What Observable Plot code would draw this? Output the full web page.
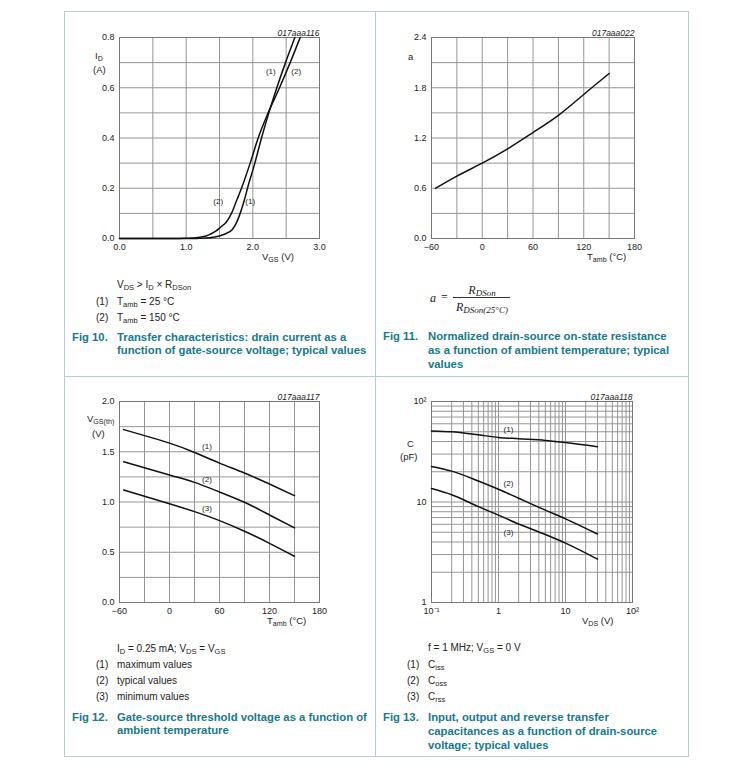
<!DOCTYPE html>
<html><head><meta charset="utf-8">
<script src="https://cdn.jsdelivr.net/npm/d3@7"></script>
<script src="https://cdn.jsdelivr.net/npm/@observablehq/plot@0.6"></script>
<style>
body{margin:0;background:#fff;}
#page{position:relative;width:750px;height:771px;font-family:"Liberation Sans",Arial,sans-serif;color:#222;overflow:hidden;}
.abs{position:absolute;white-space:nowrap;}
.hl{position:absolute;background:#b7cbd2;}
.lbl{font-size:9.5px;line-height:10px;}
.note{font-size:10px;line-height:12px;}
.cap{font-size:11.3px;font-weight:bold;color:#16798c;line-height:13px;}
.fx{font-family:"Liberation Serif","Times New Roman",serif;font-style:italic;font-size:12px;line-height:13px;}
.fx.up{font-style:normal;}
sub{font-size:75%;vertical-align:-0.3em;line-height:0;}
</style></head><body><div id="page"></div>
<script>
// ---------- Fig 10 : transfer characteristics ----------
const vgs25  = [0, 1.0, 1.2, 1.3, 1.4, 1.5, 1.6, 1.69, 1.75, 1.81, 1.87, 1.92, 2.03, 2.13, 2.24, 2.36, 2.49, 2.63];
const id25   = [0, 0, 0.0005, 0.002, 0.005, 0.01, 0.02, 0.035, 0.06, 0.1, 0.15, 0.2, 0.3, 0.4, 0.5, 0.6, 0.7, 0.8];
const vgs150 = [0, 0.9, 1.0, 1.1, 1.2, 1.3, 1.36, 1.45, 1.51, 1.6, 1.68, 1.755, 1.83, 1.96, 2.08, 2.23, 2.40, 2.56, 2.71];
const id150  = [0, 0, 0.001, 0.002, 0.005, 0.01, 0.017, 0.03, 0.044, 0.065, 0.1, 0.15, 0.2, 0.3, 0.4, 0.5, 0.6, 0.7, 0.8];
const f10XTicks = [0, 1, 2, 3];
const f10YTicks = [0, 0.2, 0.4, 0.6, 0.8];
const f10XGrid = [0, 0.5, 1, 1.5, 2, 2.5, 3];
const f10YGrid = [0, 0.1, 0.2, 0.3, 0.4, 0.5, 0.6, 0.7, 0.8];

// ---------- Fig 11 : normalized RDSon ----------
const tempA = [-55, -30, 0, 30, 60, 90, 120, 150];
const aVals = [0.6, 0.745, 0.9, 1.07, 1.265, 1.47, 1.72, 1.97];
const tXTicks = [-60, 0, 60, 120, 180];
const tXGrid = [-60, -30, 0, 30, 60, 90, 120, 150, 180];
const f11YTicks = [0, 0.6, 1.2, 1.8, 2.4];
const f11YGrid = [0, 0.3, 0.6, 0.9, 1.2, 1.5, 1.8, 2.1, 2.4];

// ---------- Fig 12 : gate-source threshold voltage ----------
const tempV  = [-55, 0, 30, 60, 90, 120, 150];
const vthMax = [1.72, 1.586, 1.493, 1.387, 1.288, 1.179, 1.063];
const vthTyp = [1.40, 1.268, 1.195, 1.10, 0.997, 0.871, 0.742];
const vthMin = [1.12, 0.983, 0.904, 0.815, 0.709, 0.589, 0.46];
const f12YTicks = [0, 0.5, 1.0, 1.5, 2.0];
const f12YGrid = [0, 0.25, 0.5, 0.75, 1.0, 1.25, 1.5, 1.75, 2.0];

// ---------- Fig 13 : capacitances ----------
const vds  = [0.1, 0.2, 0.5, 1, 2, 5, 10, 30];
const ciss = [51, 50, 46.6, 43.9, 42.6, 41, 39, 35.5];
const coss = [22.6, 20.3, 16.2, 13.4, 10.9, 8.3, 6.8, 4.8];
const crss = [13.6, 11.8, 9.0, 7.4, 6.05, 4.75, 3.9, 2.7];
const f13XTicks = [0.1, 1, 10, 100];
const f13XTickLabels = ["10\u207B\u00B9", "1", "10", "10\u00B2"];
const f13YTicks = [1, 10, 100];
const f13YTickLabels = ["1", "10", "10\u00B2"];

// ---------- helpers ----------
const page = document.getElementById("page");
const GRID = "#959595", FRAME = "#777";
function put(html, x, y, cls, anchor) {
  const d = document.createElement("div");
  d.className = "abs " + cls;
  d.innerHTML = html;
  d.style.left = x + "px"; d.style.top = y + "px";
  const tx = anchor === "center" ? "-50%" : anchor === "right" ? "-100%" : "0";
  d.style.transform = `translate(${tx}, -50%)`;
  page.appendChild(d);
  return d;
}
function rect(x, y, w, h, bg) {
  const d = document.createElement("div");
  d.className = "hl";
  Object.assign(d.style, {left: x + "px", top: y + "px", width: w + "px", height: h + "px"});
  if (bg) d.style.background = bg;
  page.appendChild(d);
}
function mount(svg, x, y) {
  svg.style.position = "absolute"; svg.style.left = x + "px"; svg.style.top = y + "px";
  page.appendChild(svg);
}
const zip = (xs, ys, s) => xs.map((x, i) => ({x, y: ys[i], s}));
const style = {fontFamily: '"Liberation Sans", Arial, sans-serif', fontSize: "9px", background: "transparent", color: "#222", overflow: "visible"};
const ax = {tickSize: 0, tickPadding: 5, label: null};
const figId = (t) => Plot.text([t], {text: d => d, frameAnchor: "top-right", lineAnchor: "bottom", dy: -2, fontStyle: "italic", fontSize: 8.5});
const lineStyle = (curve) => ({x: "x", y: "y", z: "s", stroke: "#111", strokeWidth: 1.5, curve});

// page borders
rect(64, 11, 625, 1); rect(64, 756, 625, 1);
rect(64, 11, 1, 746); rect(688, 11, 1, 746);
rect(375, 11, 1, 746); rect(64, 376, 625, 1);

// ---------- Fig 10 ----------
const d10 = [...zip(vgs25, id25, "1"), ...zip(vgs150, id150, "2")];
mount(Plot.plot({
  width: 310, height: 262, marginLeft: 55, marginRight: 55, marginTop: 26, marginBottom: 35, style,
  x: {domain: [0, 3], ticks: f10XTicks, tickFormat: ".1f", ...ax},
  y: {domain: [0, 0.8], ticks: f10YTicks, tickFormat: ".1f", ...ax},
  marks: [
    Plot.ruleX(f10XGrid, {stroke: GRID}),
    Plot.ruleY(f10YGrid, {stroke: GRID}),
    Plot.frame({stroke: FRAME}),
    Plot.line(d10, lineStyle("monotone-x")),
    Plot.text([{x: 2.27, y: 0.663, t: "(1)"}, {x: 2.65, y: 0.663, t: "(2)"}, {x: 1.48, y: 0.147, t: "(2)"}, {x: 1.96, y: 0.147, t: "(1)"}],
      {x: "x", y: "y", text: "t", fontSize: 8}),
    figId("017aaa116")
  ]
}), 64, 11);
put("I<sub>D</sub>", 95, 56, "lbl", "left");
put("(A)", 93, 70, "lbl", "left");
put("V<sub>GS</sub> (V)", 262, 257, "lbl", "left");

put("V<sub>DS</sub> &gt; I<sub>D</sub> × R<sub>DSon</sub>", 117, 285, "note");
put("(1)", 96, 302, "note"); put("T<sub>amb</sub> = 25 °C", 117, 302, "note");
put("(2)", 96, 318, "note"); put("T<sub>amb</sub> = 150 °C", 117, 318, "note");
put("Fig 10.", 72, 337, "cap");
put("Transfer characteristics: drain current as a", 117, 337, "cap");
put("function of gate-source voltage; typical values", 117, 350, "cap");

// ---------- Fig 11 ----------
mount(Plot.plot({
  width: 312, height: 262, marginLeft: 55, marginRight: 54, marginTop: 26, marginBottom: 35, style,
  x: {domain: [-60, 180], ticks: tXTicks, ...ax},
  y: {domain: [0, 2.4], ticks: f11YTicks, tickFormat: ".1f", ...ax},
  marks: [
    Plot.ruleX(tXGrid, {stroke: GRID}),
    Plot.ruleY(f11YGrid, {stroke: GRID}),
    Plot.frame({stroke: FRAME}),
    Plot.line(zip(tempA, aVals, "a"), lineStyle("natural")),
    figId("017aaa022")
  ]
}), 376, 11);
put("a", 408, 57, "lbl", "left");
put("T<sub>amb</sub> (°C)", 587, 257, "lbl", "left");

put("a", 430, 298, "fx"); put("=", 441, 297, "fx up");
put("R<sub>DSon</sub>", 482, 290, "fx", "center");
rect(453, 297, 57, 1, "#333");
put("R<sub>DSon(25°C)</sub>", 482, 307, "fx", "center");
put("Fig 11.", 383, 336, "cap");
put("Normalized drain-source on-state resistance", 428, 336, "cap");
put("as a function of ambient temperature; typical", 428, 350, "cap");
put("values", 428, 364, "cap");

// ---------- Fig 12 ----------
const d12 = [...zip(tempV, vthMax, "1"), ...zip(tempV, vthTyp, "2"), ...zip(tempV, vthMin, "3")];
mount(Plot.plot({
  width: 310, height: 262, marginLeft: 55, marginRight: 55, marginTop: 24, marginBottom: 37, style,
  x: {domain: [-60, 180], ticks: tXTicks, ...ax},
  y: {domain: [0, 2], ticks: f12YTicks, tickFormat: ".1f", ...ax},
  marks: [
    Plot.ruleX(tXGrid, {stroke: GRID}),
    Plot.ruleY(f12YGrid, {stroke: GRID}),
    Plot.frame({stroke: FRAME}),
    Plot.line(d12, lineStyle("natural")),
    Plot.text([{x: 45, y: 1.55, t: "(1)"}, {x: 45, y: 1.228, t: "(2)"}, {x: 45, y: 0.935, t: "(3)"}],
      {x: "x", y: "y", text: "t", fontSize: 8}),
    figId("017aaa117")
  ]
}), 64, 377);
put("V<sub>GS(th)</sub>", 87, 419, "lbl", "left");
put("(V)", 92, 434, "lbl", "left");
put("T<sub>amb</sub> (°C)", 267, 621, "lbl", "left");

put("I<sub>D</sub> = 0.25 mA; V<sub>DS</sub> = V<sub>GS</sub>", 117, 649, "note");
put("(1)", 96, 665, "note"); put("maximum values", 117, 665, "note");
put("(2)", 96, 681, "note"); put("typical values", 117, 681, "note");
put("(3)", 96, 697, "note"); put("minimum values", 117, 697, "note");
put("Fig 12.", 72, 717, "cap");
put("Gate-source threshold voltage as a function of", 117, 717, "cap");
put("ambient temperature", 117, 730, "cap");

// ---------- Fig 13 ----------
const d13 = [...zip(vds, ciss, "1"), ...zip(vds, coss, "2"), ...zip(vds, crss, "3")];
const gx13 = d3.scaleLog().domain([0.1, 100]).ticks();
const gy13 = d3.scaleLog().domain([1, 100]).ticks();
mount(Plot.plot({
  width: 312, height: 262, marginLeft: 55, marginRight: 56, marginTop: 24, marginBottom: 37, style,
  x: {type: "log", domain: [0.1, 100], ticks: f13XTicks, tickFormat: d => f13XTickLabels[f13XTicks.indexOf(d)], ...ax},
  y: {type: "log", domain: [1, 100], ticks: f13YTicks, tickFormat: d => f13YTickLabels[f13YTicks.indexOf(d)], ...ax},
  marks: [
    Plot.ruleX(gx13, {stroke: GRID}),
    Plot.ruleY(gy13, {stroke: GRID}),
    Plot.frame({stroke: FRAME}),
    Plot.line(d13, lineStyle("monotone-x")),
    Plot.text([{x: 1.41, y: 52.2, t: "(1)"}, {x: 1.41, y: 15.2, t: "(2)"}, {x: 1.41, y: 4.97, t: "(3)"}],
      {x: "x", y: "y", text: "t", fontSize: 8}),
    figId("017aaa118")
  ]
}), 376, 377);
put("C", 407, 444, "lbl", "left");
put("(pF)", 400, 457, "lbl", "left");
put("V<sub>DS</sub> (V)", 582, 621, "lbl", "left");

put("f = 1 MHz; V<sub>GS</sub> = 0 V", 428, 648, "note");
put("(1)", 407, 665, "note"); put("C<sub>iss</sub>", 428, 665, "note");
put("(2)", 407, 681, "note"); put("C<sub>oss</sub>", 428, 681, "note");
put("(3)", 407, 697, "note"); put("C<sub>rss</sub>", 428, 697, "note");
put("Fig 13.", 383, 717, "cap");
put("Input, output and reverse transfer", 428, 717, "cap");
put("capacitances as a function of drain-source", 428, 731, "cap");
put("voltage; typical values", 428, 745, "cap");
</script></body></html>
